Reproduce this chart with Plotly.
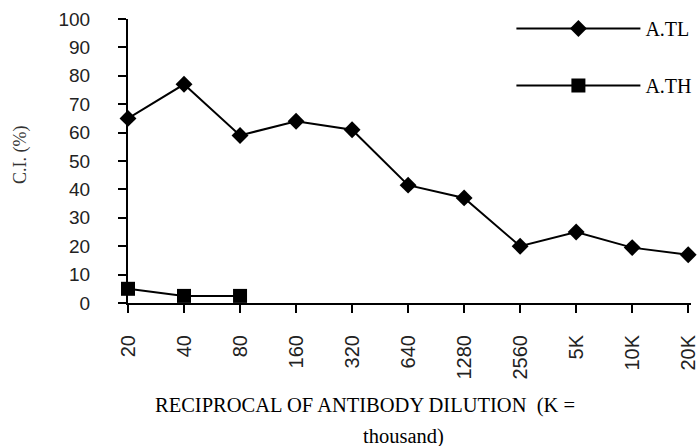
import plotly.graph_objects as go

categories = ["20", "40", "80", "160", "320", "640", "1280", "2560", "5K", "10K", "20K"]
atl_values = [65, 77, 59, 64, 61, 41.5, 37, 20, 25, 19.5, 17]
ath_categories = ["20", "40", "80"]
ath_values = [5, 2.5, 2.5]
y_ticks = [0, 10, 20, 30, 40, 50, 60, 70, 80, 90, 100]

fig = go.Figure()
fig.add_trace(go.Scatter(
    x=categories, y=atl_values, name="A.TL", mode="lines+markers",
    line=dict(color="black", width=2),
    marker=dict(symbol="diamond", size=13, color="black"),
    cliponaxis=False, legendgroup="a",
))
fig.add_trace(go.Scatter(
    x=ath_categories, y=ath_values, name="A.TH", mode="lines+markers",
    line=dict(color="black", width=2),
    marker=dict(symbol="square", size=14, color="black"),
    cliponaxis=False, legendgroup="b",
))

fig.update_layout(
    width=699, height=446,
    margin=dict(l=128, r=8, t=19, b=143, autoexpand=False),
    paper_bgcolor="white", plot_bgcolor="white",
    showlegend=True,
    legend=dict(
        x=0.681, y=1.035, xanchor="left", yanchor="top",
        bgcolor="rgba(0,0,0,0)",
        font=dict(family="Liberation Serif", size=20, color="black"),
        itemwidth=124, tracegroupgap=28, traceorder="grouped",
    ),
    annotations=[
        dict(text="RECIPROCAL OF ANTIBODY DILUTION  (K =", xref="paper", yref="paper",
             x=(365 - 128) / 563, y=-(405 - 303) / 284, xanchor="center", yanchor="middle",
             showarrow=False, font=dict(family="Liberation Serif", size=20.5, color="black")),
        dict(text="thousand)", xref="paper", yref="paper",
             x=(403 - 128) / 563, y=-(436 - 303) / 284, xanchor="center", yanchor="middle",
             showarrow=False, font=dict(family="Liberation Serif", size=20.5, color="black")),
        dict(text="C.I. (%)", xref="paper", yref="paper", textangle=-90,
             x=-(128 - 20) / 563, y=(303 - 155) / 284, xanchor="center", yanchor="middle",
             showarrow=False, font=dict(family="Liberation Serif", size=18, color="#333")),
    ],
)

fig.update_xaxes(
    type="category", categoryorder="array", categoryarray=categories,
    range=[0, 10.05], automargin=False,
    showline=True, linecolor="black", linewidth=2,
    ticks="outside", ticklen=8, tickwidth=2, tickcolor="black",
    tickangle=-90, showgrid=False, zeroline=False, ticklabelstandoff=14,
    tickfont=dict(family="Liberation Sans", size=20, color="#222"),
)
fig.update_yaxes(
    range=[0, 100], tickvals=y_ticks, automargin=False,
    showline=True, linecolor="black", linewidth=2,
    ticks="outside", ticklen=8, tickwidth=2, tickcolor="black",
    showgrid=False, zeroline=False, ticklabelstandoff=24,
    tickfont=dict(family="Liberation Sans", size=19, color="#222"),
)

fig.write_html("out.html", post_script="document.body.style.margin='0';",
               config={"displayModeBar": False})
